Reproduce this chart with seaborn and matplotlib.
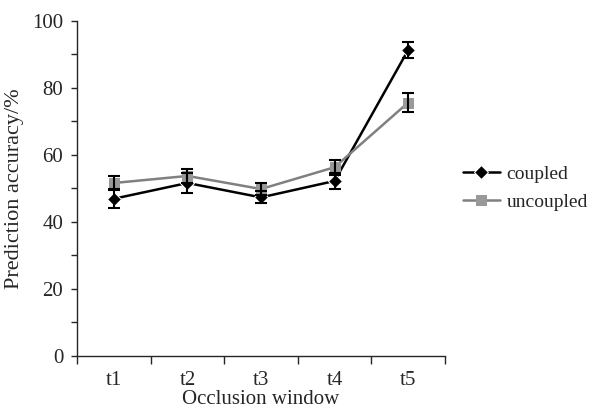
import numpy as np
import pandas as pd
import matplotlib
matplotlib.use("Agg")
import matplotlib.pyplot as plt
import seaborn as sns
from matplotlib.ticker import MultipleLocator, FixedLocator

# Données
windows = ["t1", "t2", "t3", "t4", "t5"]
coupled = [46.9, 51.6, 47.3, 52.2, 91.3]
coupled_err = [2.8, 3.0, 1.8, 2.3, 2.4]
uncoupled = [51.6, 53.7, 49.8, 56.3, 75.6]
uncoupled_err = [2.2, 2.0, 1.9, 2.2, 2.9]

df = pd.DataFrame({
    "window": windows * 2,
    "accuracy": coupled + uncoupled,
    "condition": ["coupled"] * 5 + ["uncoupled"] * 5,
})

sns.set_style("ticks")
plt.rcParams["font.family"] = ["Liberation Serif", "DejaVu Serif"]

fig = plt.figure(figsize=(5.98, 4.09), dpi=100)
ax = fig.add_axes([0.129, 0.130, 0.615, 0.819])

palette = {"coupled": "#000000", "uncoupled": "#808080"}
sns.lineplot(data=df, x="window", y="accuracy", hue="condition", style="condition",
             markers={"coupled": "D", "uncoupled": "s"}, dashes=False,
             palette=palette, linewidth=1.8, markersize=7, ax=ax)

# Marqueurs du gris un peu plus clairs que la ligne
for line in ax.lines:
    if line.get_color() == "#808080":
        line.set_markerfacecolor("#999999")
        line.set_markeredgecolor("#999999")

# Barres d'erreur
pos = np.arange(len(windows))
ax.errorbar(pos, coupled, yerr=coupled_err, fmt="none", ecolor="black",
            elinewidth=1.5, capsize=4, capthick=1.5, zorder=5)
ax.errorbar(pos, uncoupled, yerr=uncoupled_err, fmt="none", ecolor="black",
            elinewidth=1.5, capsize=4, capthick=1.5, zorder=5)

ax.set_xlim(-0.5, len(windows) - 0.5)
ax.set_ylim(0, 100)
ax.yaxis.set_major_locator(MultipleLocator(20))
ax.yaxis.set_minor_locator(MultipleLocator(10))
ax.xaxis.set_major_locator(FixedLocator(np.arange(-0.5, len(windows), 1.0)))
ax.xaxis.set_major_formatter(plt.NullFormatter())
ax.xaxis.set_minor_locator(FixedLocator(pos))
ax.set_xticklabels(windows, minor=True)
ax.tick_params(axis="x", which="minor", length=0, labelsize=15, pad=11)
ax.tick_params(axis="x", which="major", length=6, width=1, direction="out")
ax.tick_params(axis="y", which="both", length=4, width=1, direction="out",
               labelsize=15, pad=6)

sns.despine(ax=ax)
for sp in ["left", "bottom"]:
    ax.spines[sp].set_linewidth(1.0)

ax.set_xlabel("Occlusion window", fontsize=15, labelpad=0)
ax.set_ylabel("Prediction accuracy/%", fontsize=16, labelpad=6)

leg = ax.legend(loc="center left", bbox_to_anchor=(0.774, 0.54),
                bbox_transform=fig.transFigure, frameon=False, borderpad=0,
                borderaxespad=0, fontsize=14, handlelength=1.9,
                handletextpad=0.35, labelspacing=0.5)

fig.savefig("out.png", dpi=100)
